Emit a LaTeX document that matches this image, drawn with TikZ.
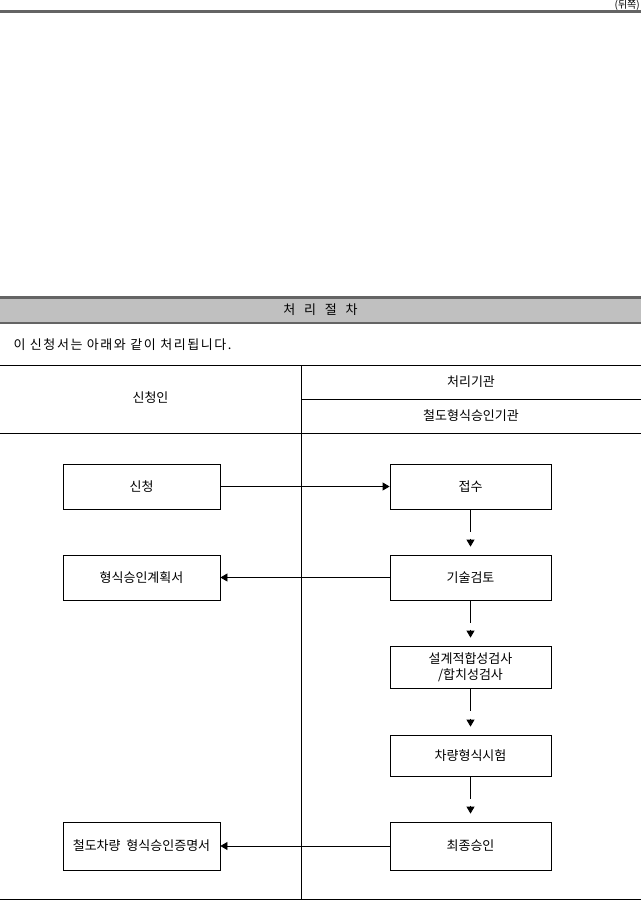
\documentclass[tikz,border=0pt]{standalone}
\usepackage{fontspec}
\setmainfont{Noto Sans CJK KR}
\definecolor{bandgray}{RGB}{192, 192, 192}
\definecolor{rulegray}{RGB}{100, 100, 100}
\usetikzlibrary{arrows.meta, positioning, calc}

\begin{document}
\begin{tikzpicture}[x=1pt, y=-1pt, font=\fontsize{13}{16}\selectfont,
  procbox/.style={draw, line width=0.8pt, minimum width=157pt, minimum height=45pt, inner sep=0pt, align=center},
  rightbox/.style={procbox, minimum width=161pt},
  rule/.style={line width=0.9pt},
  headarrow/.style={-{Triangle[length=7pt, width=8pt]}, line width=0.8pt}]
  \useasboundingbox (0,0) rectangle (641,901);

  % page head
  \node[anchor=east, inner sep=0pt, font=\fontsize{10}{12}\selectfont] (side) at (640,5) {(뒤쪽)};
  \draw[rulegray, line width=3pt] (0,12) -- (641,12);

  % title band
  \fill[bandgray] (0,298) rectangle (641,322);
  \draw[rulegray, line width=3pt] (0,297) -- (641,297);
  \draw[rulegray, line width=2pt] (0,323) -- (641,323);
  \node (title) at (320.5,310) {처\ \ \ 리\ \ \ 절\ \ \ 차};
  \node[anchor=west, font=\fontsize{13}{16}\selectfont\addfontfeature{LetterSpace=12}] (intro) at (10,345) {이 신청서는 아래와 같이 처리됩니다.};

  % table
  \draw[rule] (0,365) -- (641,365);
  \draw[rule] (301,399) -- (641,399);
  \draw[rule] (0,433) -- (641,433);
  \draw[rule] (0,899.5) -- (641,899.5);
  \draw[rule] (301,365) -- (301,899.5);
  \node (applicant) at (150.5,398) {신청인};
  \node (agency) at (471,382) {처리기관};
  \node (railagency) at (471,416) {철도형식승인기관};

  % boxes
  \node[procbox] (apply) at (141.5,486.5) {신청};
  \node[procbox] (plan) at (141.5,577.5) {형식승인계획서};
  \node[procbox, minimum height=48pt] (cert) at (141.5,846) {철도차량\ \ 형식승인증명서};
  \node[rightbox] (recv) at (470.5,486.5) {접수};
  \node[rightbox] (review) at (470.5,577.5) {기술검토};
  \node[rightbox, minimum height=42pt] (design) at (470.5,667) {설계적합성검사\\/합치성검사};
  \node[rightbox, minimum height=41pt] (test) at (470.5,755.5) {차량형식시험};
  \node[rightbox, minimum height=48pt] (final) at (470.5,846) {최종승인};

  % connectors
  \draw[headarrow] (apply) -- (recv);
  \draw[headarrow] (review) -- (plan);
  \draw[headarrow] (final) -- (cert);
  \foreach \a/\b in {recv/review, review/design, design/test, test/final} {
    \draw[line width=0.8pt] (\a.south) -- ([yshift=-23pt]\a.south);
    \draw[headarrow] ([yshift=16pt]\b.north) -- ([yshift=8pt]\b.north);
  }
\end{tikzpicture}
\end{document}
